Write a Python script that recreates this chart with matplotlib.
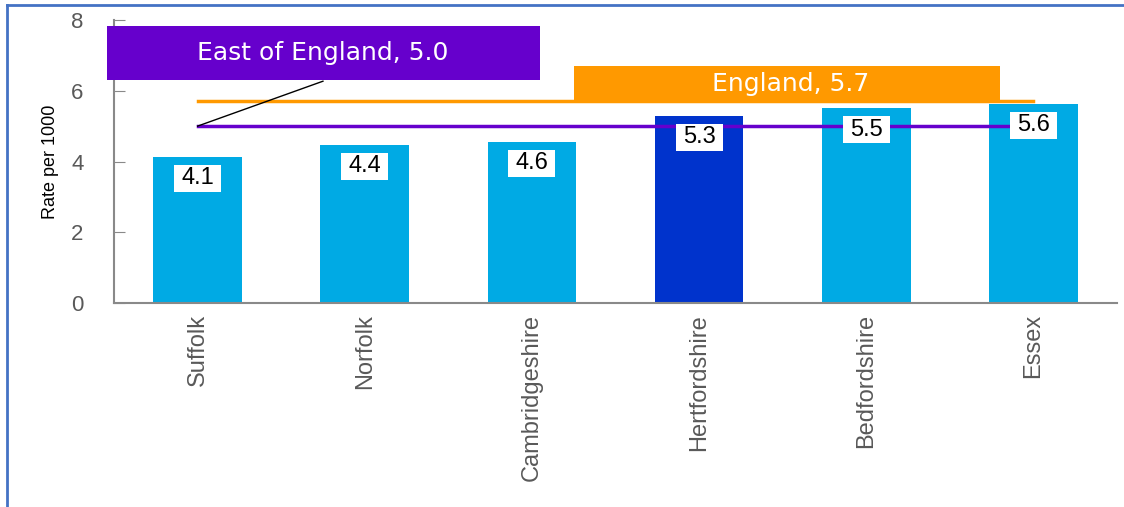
import matplotlib.pyplot as plt
from matplotlib.lines import Line2D

# data
areas = ['Suffolk', 'Norfolk', 'Cambridgeshire', 'Hertfordshire', 'Bedfordshire', 'Essex']
rates = [4.1, 4.4, 4.6, 5.3, 5.5, 5.6]
heights = [4.12, 4.46, 4.55, 5.28, 5.5, 5.62]
england = 5.7
east = 5.0
highlight = 'Hertfordshire'

plt.rcParams['font.family'] = ['Liberation Sans', 'DejaVu Sans']

fig = plt.figure(figsize=(11.24, 5.07), dpi=100)
ax = fig.add_axes([114 / 1124, 1 - 303 / 507, (1117 - 114) / 1124, (303 - 20) / 507])

cols = ['#0033CC' if a == highlight else '#00AAE4' for a in areas]
x = range(len(areas))
ax.bar(x, heights, width=0.53, color=cols, zorder=2)

# benchmark lines
ax.plot([0, 5], [england, england], color='#FF9900', lw=2.5, zorder=3)
ax.plot([0, 5], [east, east], color='#6600CC', lw=2.5, zorder=3)

# value labels
for i, (h, r) in enumerate(zip(heights, rates)):
    ax.text(i, h - 0.6, f'{r:.1f}', ha='center', va='center', fontsize=17, color='black', zorder=5,
            bbox=dict(boxstyle='square,pad=0.3', fc='white', ec='none', mutation_aspect=0.35))

# callouts
ax.plot([0, 0.75], [east, 6.27], color='black', lw=1, zorder=3)
ax.add_patch(plt.Rectangle((-0.543, 6.3), 2.59, 1.52, fc='#6600CC', ec='none', zorder=5, clip_on=False))
ax.text(0.75, 7.06, f'East of England, {east:.1f}', ha='center', va='center', fontsize=18,
        color='white', zorder=6, family='DejaVu Sans')
ax.add_patch(plt.Rectangle((2.25, 5.65), 2.55, 1.04, fc='#FF9900', ec='none', zorder=5))
ax.text(3.55, 6.18, f'England, {england:.1f}', ha='center', va='center', fontsize=18,
        color='white', zorder=6, family='DejaVu Sans')

ax.set_xlim(-0.5, 5.5)
ax.set_ylim(0, 8)
ax.set_yticks([0, 2, 4, 6, 8])
ax.set_xticks(list(x))
ax.set_xticklabels(areas, rotation=90, fontsize=17, color='#595959')
ax.tick_params(axis='y', direction='in', length=8, color='#898989', labelsize=16,
               labelcolor='#595959', pad=22)
ax.tick_params(axis='x', length=0, pad=8)
for s in ['top', 'right']:
    ax.spines[s].set_visible(False)
for s in ['left', 'bottom']:
    ax.spines[s].set_color('#898989')
    ax.spines[s].set_linewidth(1.5)
ax.set_ylabel('Rate per 1000', fontsize=13, color='black')
ax.yaxis.set_label_coords(-55 / 1003, 0.5)

# outer frame (left and top edges)
fig.add_artist(Line2D([7 / 1124, 7 / 1124], [0, 1 - 5 / 507], color='#4472C4', lw=2,
                      transform=fig.transFigure))
fig.add_artist(Line2D([7 / 1124, 1], [1 - 5 / 507, 1 - 5 / 507], color='#4472C4', lw=2,
                      transform=fig.transFigure))

fig.savefig('out.png', dpi=100)
